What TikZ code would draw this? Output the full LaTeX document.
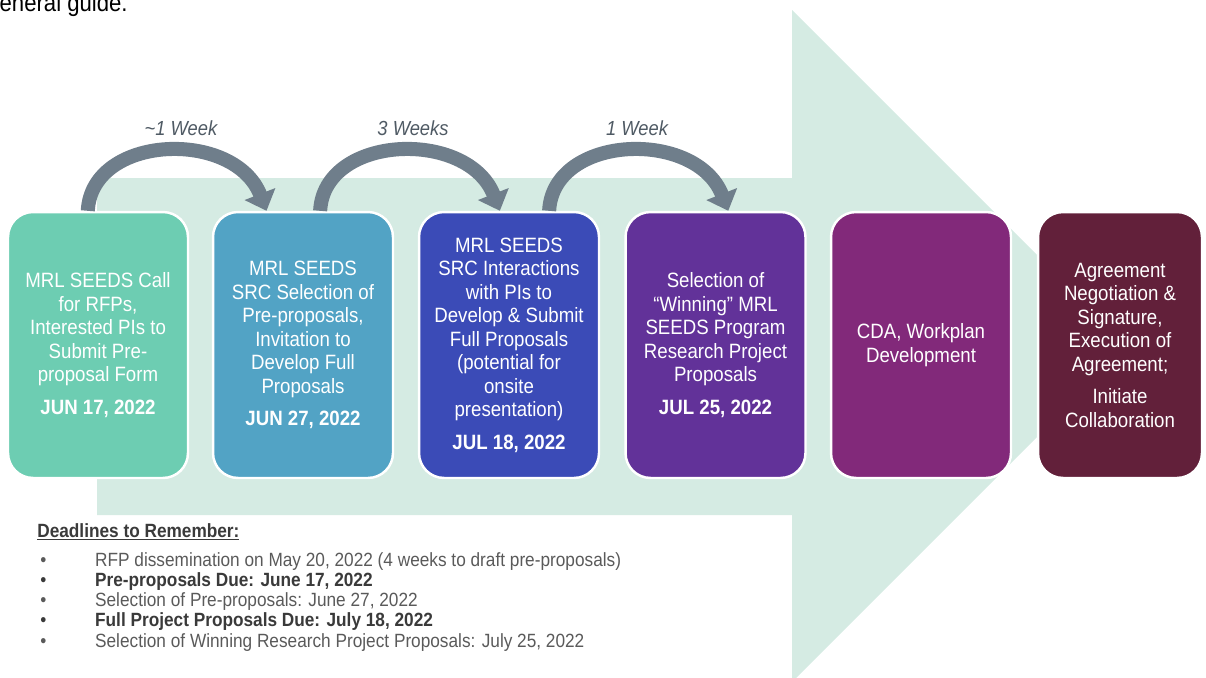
\documentclass[tikz,border=0pt]{standalone}
\usepackage{fontspec}
\setmainfont{Liberation Sans}
\newfontfamily\slimfont{Liberation Sans}[FakeStretch=0.9]
\usetikzlibrary{arrows.meta}
\usetikzlibrary{calc}

\definecolor{mintbg}{HTML}{D5EBE3}
\definecolor{stageA}{HTML}{6DCDB2}
\definecolor{stageB}{HTML}{52A3C5}
\definecolor{stageC}{HTML}{3B4BB7}
\definecolor{stageD}{HTML}{623299}
\definecolor{stageE}{HTML}{82297A}
\definecolor{stageF}{HTML}{62203A}
\definecolor{hopgray}{HTML}{6F7E8B}
\definecolor{weekgray}{HTML}{4F5A64}
\definecolor{notegray}{HTML}{5A5A5A}
\definecolor{notedark}{HTML}{3A3A3A}

\tikzset{
  stagebox/.style={draw=white, line width=1.4pt, rounded corners=.5cm,
    minimum width=3.6cm, minimum height=5.32cm, align=center, text=white,
    font=\slimfont\fontsize{11.8}{13.4}\selectfont},
  hoparrow/.style={hopgray, line width=8pt,
    -{Triangle[width=.64cm,length=.36cm]}},
  weeklabel/.style={weekgray, font=\slimfont\itshape\fontsize{11.6}{13}\selectfont},
  noteline/.style={anchor=base west, inner sep=0pt, notegray,
    font=\slimfont\fontsize{10.9}{12}\selectfont},
}

\begin{document}
\begin{tikzpicture}[x=.02cm, y=-.02cm]

\useasboundingbox (0,0) rectangle (1206,677);
\clip (0,0) rectangle (1206,677);

% line of the page above, cut off
\node[anchor=base west, inner sep=0pt,
  font=\slimfont\fontsize{14}{16}\selectfont]
  (guide) at (-13,11) {general guide.};

% background arrow
\fill[mintbg]
  (97,178) -- (792,178) -- (792,10) -- (1128,346)
  -- (792,682) -- (792,515) -- (97,515) -- cycle;

% stages
\node[stagebox, fill=stageA] (b1) at (98,345)
  {MRL SEEDS Call\\for RFPs,\\Interested PIs to\\Submit Pre-\\proposal Form\\[5pt]
   \textbf{JUN 17, 2022}};

\node[stagebox, fill=stageB] (b2) at (303,345)
  {MRL SEEDS\\SRC Selection of\\Pre-proposals,\\Invitation to\\Develop Full\\Proposals\\[5pt]
   \textbf{JUN 27, 2022}};

\node[stagebox, fill=stageC] (b3) at (509,345)
  {MRL SEEDS\\SRC Interactions\\with PIs to\\Develop \& Submit\\Full Proposals\\(potential for\\onsite\\presentation)\\[5pt]
   \textbf{JUL 18, 2022}};

\node[stagebox, fill=stageD] (b4) at (715.5,345)
  {Selection of\\“Winning” MRL\\SEEDS Program\\Research Project\\Proposals\\[5pt]
   \textbf{JUL 25, 2022}};

\node[stagebox, fill=stageE] (b5) at (921,345)
  {CDA, Workplan\\Development};

\node[stagebox, fill=stageF, minimum width=3.28cm] (b6) at (1120,345)
  {Agreement\\Negotiation \&\\Signature,\\Execution of\\Agreement;\\[5pt]
   Initiate\\Collaboration};

% hops between stages
\draw[hoparrow]
  ($(b1.north west)!.444!(b1.north east)$)
  .. controls +(4,-77) and +(-32,-82) ..
  ($(b2.north west)!.30!(b2.north east)$);

\draw[hoparrow]
  ($(b2.north west)!.594!(b2.north east)$)
  .. controls +(4,-77) and +(-32,-82) ..
  ($(b3.north west)!.45!(b3.north east)$);

\draw[hoparrow]
  ($(b3.north west)!.72!(b3.north east)$)
  .. controls +(4,-77) and +(-32,-82) ..
  ($(b4.north west)!.57!(b4.north east)$);

\node[weeklabel] (w1) at (181,128) {\textasciitilde1 Week};
\node[weeklabel] (w2) at (413,128) {3 Weeks};
\node[weeklabel] (w3) at (637,128) {1 Week};

% deadlines
\node[noteline, notedark] (dhead) at (37,537)
  {\textbf{\underline{Deadlines to Remember:}}};

\node[noteline] (d1) at (40,566)
  {\makebox[31.2pt][l]{\textbullet}RFP dissemination on May 20, 2022 (4 weeks to draft pre-proposals)};
\node[noteline, notedark] (d2) at (40,586)
  {\makebox[31.2pt][l]{\textbullet}\textbf{Pre-proposals Due: June 17, 2022}};
\node[noteline] (d3) at (40,606)
  {\makebox[31.2pt][l]{\textbullet}Selection of Pre-proposals: June 27, 2022};
\node[noteline, notedark] (d4) at (40,626)
  {\makebox[31.2pt][l]{\textbullet}\textbf{Full Project Proposals Due: July 18, 2022}};
\node[noteline] (d5) at (40,647)
  {\makebox[31.2pt][l]{\textbullet}Selection of Winning Research Project Proposals: July 25, 2022};

\end{tikzpicture}
\end{document}
